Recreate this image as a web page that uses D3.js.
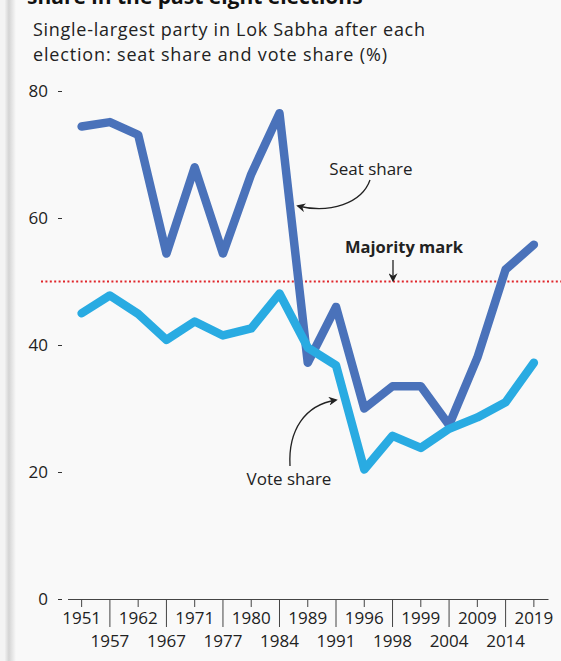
<!DOCTYPE html>
<html>
<head>
<meta charset="utf-8">
<script src="https://cdn.jsdelivr.net/npm/d3@7"></script>
<style>
  html, body { margin: 0; padding: 0; background: #f9f9f9; }
  svg { display: block; font-family: "Open Sans", "Noto Sans", sans-serif; }
</style>
</head>
<body>
<div id="chart"></div>
<script>
// election years (x categories)
const years = ["1951", "1957", "1962", "1967", "1971", "1977", "1980", "1984", "1989",
               "1991", "1996", "1998", "1999", "2004", "2009", "2014", "2019"];
// single-largest party seat share (%)
const seatShare = [74.4, 75.1, 73.1, 54.4, 68.0, 54.4, 66.9, 76.5, 37.2,
                   46.0, 30.0, 33.5, 33.5, 27.4, 38.0, 51.9, 55.8];
// single-largest party vote share (%)
const voteShare = [45.0, 47.8, 44.9, 40.8, 43.7, 41.5, 42.6, 48.1, 39.6,
                   36.8, 20.4, 25.7, 23.8, 26.8, 28.6, 31.0, 37.2];
const yTicks = [0, 20, 40, 60, 80];
const majority = 50;

const width = 561, height = 661;

const svg = d3.select("#chart").append("svg")
    .attr("width", width)
    .attr("height", height);

// page edge shadow on the left
const defs = svg.append("defs");
const grad = defs.append("linearGradient").attr("id", "edge");
grad.append("stop").attr("offset", "0%").attr("stop-color", "#f0f0f0");
grad.append("stop").attr("offset", "35%").attr("stop-color", "#d4d4d4");
grad.append("stop").attr("offset", "100%").attr("stop-color", "#f9f9f9");
svg.append("rect").attr("x", 5).attr("y", 0).attr("width", 11).attr("height", height)
    .attr("fill", "url(#edge)");
svg.append("rect").attr("x", 0).attr("y", 0).attr("width", 5).attr("height", height)
    .attr("fill", "#f4f4f4");

// arrow marker
defs.append("marker")
    .attr("id", "arrow")
    .attr("viewBox", "0 0 10 10")
    .attr("refX", 8).attr("refY", 5)
    .attr("markerWidth", 9).attr("markerHeight", 9)
    .attr("markerUnits", "userSpaceOnUse")
    .attr("orient", "auto")
    .append("path")
    .attr("d", "M0,0 L10,5 L0,10 L3,5 Z")
    .attr("fill", "#222");

// titles (the headline is cut off at the top in the original)
svg.append("text")
    .attr("x", 27).attr("y", 4)
    .attr("font-size", 21).attr("font-weight", "bold").attr("fill", "#111")
    .text("share in the past eight elections");

svg.append("text")
    .attr("x", 33).attr("y", 36)
    .attr("font-size", 18).attr("fill", "#222")
    .attr("textLength", 392).attr("lengthAdjust", "spacing")
    .text("Single-largest party in Lok Sabha after each");
svg.append("text")
    .attr("x", 33).attr("y", 61)
    .attr("font-size", 18).attr("fill", "#222")
    .attr("textLength", 354).attr("lengthAdjust", "spacing")
    .text("election: seat share and vote share (%)");

// scales
const x = d3.scaleBand()
    .domain(years)
    .range([67.5, 548])
    .padding(0);

const y = d3.scaleLinear()
    .domain([0, 80])
    .range([599, 91]);

const cx = d => x(d) + x.bandwidth() / 2;

// y axis
const yAxis = svg.append("g")
    .attr("transform", "translate(62,0)")
    .call(d3.axisLeft(y).tickValues(yTicks).tickSize(4).tickPadding(10));
yAxis.select(".domain").remove();
yAxis.selectAll(".tick line").attr("stroke", "#333");
yAxis.selectAll(".tick text")
    .attr("font-size", 17).attr("fill", "#222")
    .attr("font-family", "\"Open Sans\", sans-serif");

// x axis
const xAxis = svg.append("g")
    .attr("transform", `translate(0,${y(0)})`)
    .call(d3.axisBottom(x).tickSizeOuter(0));
xAxis.select(".domain").attr("stroke", "#444").attr("stroke-width", 1.2);
xAxis.selectAll(".tick line")
    .attr("stroke", "#444")
    .attr("y2", (d, i) => i % 2 === 0 ? 8 : 28);
xAxis.selectAll(".tick text")
    .attr("font-size", 17).attr("fill", "#222")
    .attr("font-family", "\"Open Sans\", sans-serif")
    .attr("dy", 0)
    .attr("y", (d, i) => i % 2 === 0 ? 25 : 48);

// majority line
svg.append("line")
    .attr("x1", 41).attr("x2", width)
    .attr("y1", y(majority)).attr("y2", y(majority))
    .attr("stroke", "#e0262b")
    .attr("stroke-width", 2)
    .attr("stroke-dasharray", "2 2.4");

const line = d3.line()
    .x((d, i) => cx(years[i]))
    .y(d => y(d));

svg.append("path")
    .datum(seatShare)
    .attr("d", line)
    .attr("fill", "none")
    .attr("stroke", "#4a72ba")
    .attr("stroke-width", 8.5)
    .attr("stroke-linejoin", "round")
    .attr("stroke-linecap", "round");

svg.append("path")
    .datum(voteShare)
    .attr("d", line)
    .attr("fill", "none")
    .attr("stroke", "#29abe2")
    .attr("stroke-width", 8.5)
    .attr("stroke-linejoin", "round")
    .attr("stroke-linecap", "round");

// annotations
svg.append("text")
    .attr("x", 371).attr("y", 175)
    .attr("text-anchor", "middle")
    .attr("font-size", 17).attr("fill", "#222")
    .text("Seat share");
svg.append("path")
    .attr("d", "M370,180 C362,203 330,214 298,206")
    .attr("fill", "none").attr("stroke", "#222").attr("stroke-width", 1.3)
    .attr("marker-end", "url(#arrow)");

svg.append("text")
    .attr("x", 404).attr("y", 253)
    .attr("text-anchor", "middle")
    .attr("font-size", 16.5).attr("font-weight", "bold").attr("fill", "#222")
    .text("Majority mark");
svg.append("line")
    .attr("x1", 393).attr("x2", 393)
    .attr("y1", 260).attr("y2", y(majority) - 1)
    .attr("stroke", "#222").attr("stroke-width", 1.3)
    .attr("marker-end", "url(#arrow)");

svg.append("text")
    .attr("x", 289).attr("y", 485)
    .attr("text-anchor", "middle")
    .attr("font-size", 17).attr("fill", "#222")
    .text("Vote share");
svg.append("path")
    .attr("d", "M290,466 C288,430 305,405 336,400")
    .attr("fill", "none").attr("stroke", "#222").attr("stroke-width", 1.3)
    .attr("marker-end", "url(#arrow)");
</script>
</body>
</html>
